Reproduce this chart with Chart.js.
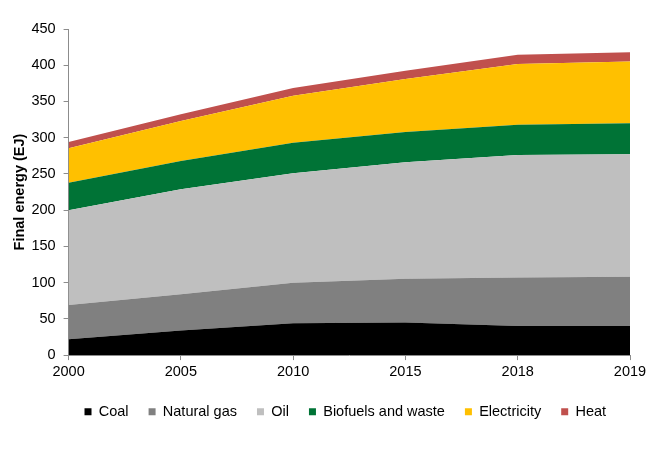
<!DOCTYPE html>
<html>
<head>
<meta charset="utf-8">
<script src="https://cdn.jsdelivr.net/npm/chart.js@4"></script>
<style>
  html, body { margin: 0; padding: 0; background: #fff; }
  #wrap { width: 660px; height: 459px; }
</style>
</head>
<body>
<div id="wrap"><canvas id="c" width="660" height="459"></canvas></div>
<script>
const years = ["2000", "2005", "2010", "2015", "2018", "2019"];
const coal = [22, 34, 44, 45, 40, 40];
const naturalGas = [47, 50, 56, 60.5, 67, 68];
const oil = [131, 145, 151, 160.5, 169, 169];
const biofuels = [38, 39, 42, 42, 42, 43];
const electricity = [47.6, 55, 65, 73, 83.7, 85];
const heat = [8.4, 9.5, 10.5, 11.5, 12.8, 13];
const yTicks = [0, 50, 100, 150, 200, 250, 300, 350, 400, 450];

const FONT = "'Liberation Sans', Arial, sans-serif";
const FS = 14.5;
const AXIS = '#8c8c8c';

function ds(label, data, color, fill) {
  return {
    label, data,
    backgroundColor: color, borderColor: color,
    borderWidth: 0, pointRadius: 0, pointHoverRadius: 0,
    tension: 0, fill
  };
}

// centre the legend under the plot area rather than the whole canvas
const legendCentre = {
  id: 'legendCentre',
  afterLayout(chart) {
    const lg = chart.legend;
    const target = (chart.chartArea.left + chart.chartArea.right) / 2 - 4;
    const cur = (lg.left + lg.right) / 2;
    const d = target - cur;
    lg.left += d; lg.right += d;
  }
};

new Chart(document.getElementById('c'), {
  type: 'line',
  data: {
    labels: years,
    datasets: [
      ds('Coal', coal, '#000000', 'origin'),
      ds('Natural gas', naturalGas, '#808080', '-1'),
      ds('Oil', oil, '#BFBFBF', '-1'),
      ds('Biofuels and waste', biofuels, '#007336', '-1'),
      ds('Electricity', electricity, '#FFC000', '-1'),
      ds('Heat', heat, '#C0504D', '-1')
    ]
  },
  plugins: [legendCentre],
  options: {
    responsive: false,
    animation: false,
    devicePixelRatio: 1,
    layout: { padding: { left: 11, right: 30, top: 29, bottom: 30 } },
    plugins: {
      tooltip: { enabled: false },
      legend: {
        position: 'bottom',
        labels: {
          boxWidth: 7, boxHeight: 7, padding: 20,
          color: '#000', font: { family: FONT, size: FS }
        }
      }
    },
    scales: {
      x: {
        offset: false,
        afterFit(axis) { axis.height += 1; },
        grid: { display: true, drawOnChartArea: false, drawTicks: true, tickLength: 5, color: AXIS },
        border: { display: true, color: AXIS, width: 1 },
        ticks: { color: '#000', font: { family: FONT, size: FS }, padding: 3, maxRotation: 0 }
      },
      y: {
        stacked: true,
        min: 0, max: 450,
        afterFit(axis) { axis.width -= 9; },
        afterBuildTicks(axis) { axis.ticks = yTicks.map(v => ({ value: v })); },
        grid: { display: true, drawOnChartArea: false, drawTicks: true, tickLength: 5, color: AXIS },
        border: { display: true, color: AXIS, width: 1 },
        ticks: { color: '#000', font: { family: FONT, size: FS }, padding: 8 },
        title: { display: true, text: 'Final energy (EJ)', color: '#000', font: { family: FONT, size: FS, weight: 'bold' }, padding: { top: 0, bottom: 4 } }
      }
    }
  }
});
</script>
</body>
</html>
